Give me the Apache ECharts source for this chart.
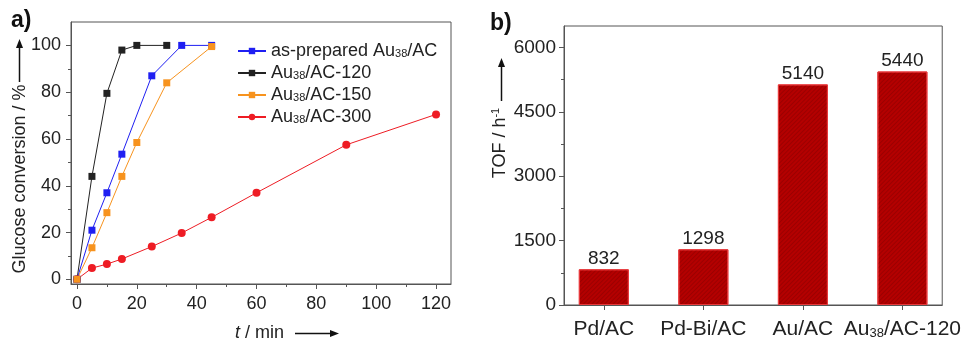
<!DOCTYPE html>
<html><head><meta charset="utf-8">
<script src="https://cdn.jsdelivr.net/npm/echarts@6/dist/echarts.min.js"></script>
<style>html,body{margin:0;padding:0;background:#fff}#c{width:964px;height:340px}</style>
</head><body><div id="c"></div>
<script>
// ---- data ----
const seriesNames = ['as-prepared Au38/AC', 'Au38/AC-120', 'Au38/AC-150', 'Au38/AC-300'];
const tPrepared = [0, 5, 10, 15, 25, 35, 45];
const convPrepared = [0, 21, 37, 53.5, 87, 100, 100];
const t120 = [0, 5, 10, 15, 20, 30];
const conv120 = [0, 44, 79.5, 98, 100, 100];
const t150 = [0, 5, 10, 15, 20, 30, 45];
const conv150 = [0, 13.5, 28.5, 44, 58.5, 84, 99.5];
const t300 = [0, 5, 10, 15, 25, 35, 45, 60, 90, 120];
const conv300 = [0, 4.8, 6.5, 8.7, 14, 19.8, 26.5, 37, 57.5, 70.5];
const catalysts = ['Pd/AC', 'Pd-Bi/AC', 'Au/AC', 'Au38/AC-120'];
const tof = [832, 1298, 5140, 5440];
const timeTicks = [0, 20, 40, 60, 80, 100, 120];
const timeMinor = [10, 30, 50, 70, 90, 110];
const convTicks = [0, 20, 40, 60, 80, 100];
const convMinor = [10, 30, 50, 70, 90];
const tofTicks = [0, 1500, 3000, 4500, 6000];
const tofMinor = [750, 2250, 3750, 5250];
const catPos = [1, 2, 3, 4];

// ---- styles ----
const F = "'Liberation Sans', Arial, sans-serif";
const INK = '#222';
const AX = '#555';
const colors = {prep: '#1f1ff2', c120: '#222222', c150: '#f7931e', c300: '#ee1c24'};
const sub = s => s.replace('38', '{s|38}');
const zip = (a, b) => a.map((v, i) => [v, b[i]]);
const plain = v => String(v);

const majorAxis = (grid, min, max, ticks, extra) => Object.assign({
  type: 'value', gridIndex: grid, min: min, max: max,
  axisLine: {show: true, onZero: false, lineStyle: {color: AX, width: 1}},
  axisTick: {show: true, inside: false, length: 5, customValues: ticks, lineStyle: {color: AX}},
  axisLabel: {show: true, customValues: ticks, color: INK, fontSize: 18, fontFamily: F, margin: 10, formatter: plain},
  splitLine: {show: false}
}, extra || {});
const minorAxis = (grid, min, max, ticks, pos) => ({
  type: 'value', gridIndex: grid, min: min, max: max, position: pos,
  axisLine: {show: false, onZero: false},
  axisTick: {show: true, inside: false, length: 3, customValues: ticks, lineStyle: {color: AX}},
  axisLabel: {show: false}, splitLine: {show: false}
});

const chart = echarts.init(document.getElementById('c'), null, {renderer: 'canvas'});
chart.setOption({
  animation: false,
  backgroundColor: '#fff',
  textStyle: {fontFamily: F},
  grid: [
    {left: 71, top: 22, width: 380, height: 262, show: true, borderColor: AX, borderWidth: 1, backgroundColor: 'transparent'},
    {left: 564, top: 26, width: 379, height: 279, show: true, borderColor: AX, borderWidth: 1, backgroundColor: 'transparent'}
  ],
  xAxis: [
    majorAxis(0, -2, 125, timeTicks, {position: 'bottom',
      axisLabel: {show: true, customValues: timeTicks, color: INK, fontSize: 18, fontFamily: F, margin: 11, formatter: plain}}),
    minorAxis(0, -2, 125, timeMinor, 'bottom'),
    majorAxis(1, 0.6, 4.4, catPos, {
      position: 'bottom',
      axisLabel: {show: true, customValues: catPos, color: INK, fontSize: 21, fontFamily: F, margin: 14,
        formatter: v => sub(catalysts[Math.round(v) - 1]),
        rich: {s: {fontSize: 13, fontFamily: F, color: INK, padding: [8, 0, 0, 0]}}}
    })
  ],
  yAxis: [
    majorAxis(0, -2, 110, convTicks, {position: 'left'}),
    minorAxis(0, -2, 110, convMinor, 'left'),
    majorAxis(1, 0, 6500, tofTicks, {position: 'left', axisLabel: {show: true, customValues: tofTicks, color: INK, fontSize: 19, fontFamily: F, margin: 8, formatter: plain}}),
    minorAxis(1, 0, 6500, tofMinor, 'left')
  ],
  legend: {
    data: seriesNames, orient: 'vertical', left: 232, top: 37,
    itemWidth: 28, itemHeight: 8, itemGap: 4,
    formatter: n => sub(n),
    textStyle: {fontSize: 18, color: INK, fontFamily: F,
      rich: {s: {fontSize: 11, fontFamily: F, color: INK, padding: [6, 0, 0, 0]}}}
  },
  series: [
    {name: seriesNames[3], type: 'line', xAxisIndex: 0, yAxisIndex: 0, data: zip(t300, conv300),
      symbol: 'circle', symbolSize: 8, lineStyle: {width: 1, color: colors.c300}, itemStyle: {color: colors.c300}},
    {name: seriesNames[1], type: 'line', xAxisIndex: 0, yAxisIndex: 0, data: zip(t120, conv120),
      symbol: 'rect', symbolSize: 7, lineStyle: {width: 1, color: colors.c120}, itemStyle: {color: colors.c120}},
    {name: seriesNames[0], type: 'line', xAxisIndex: 0, yAxisIndex: 0, data: zip(tPrepared, convPrepared),
      symbol: 'rect', symbolSize: 7, lineStyle: {width: 1, color: colors.prep}, itemStyle: {color: colors.prep}},
    {name: seriesNames[2], type: 'line', xAxisIndex: 0, yAxisIndex: 0, data: zip(t150, conv150),
      symbol: 'rect', symbolSize: 7, lineStyle: {width: 1, color: colors.c150}, itemStyle: {color: colors.c150}},
    {name: 'TOF', type: 'bar', xAxisIndex: 2, yAxisIndex: 2, data: zip(catPos, tof), barWidth: 50,
      itemStyle: {color: '#b40000', borderColor: '#e8393b', borderWidth: 1,
        decal: {symbol: 'rect', dashArrayX: [1, 0], dashArrayY: [1, 2], rotation: -Math.PI / 4, color: 'rgba(70,0,0,0.22)'}},
      label: {show: true, position: 'top', distance: 1, fontSize: 19, color: INK, fontFamily: F,
        formatter: p => String(p.value[1])}}
  ],
  graphic: [
    {type: 'text', left: 11, top: 9, style: {text: 'a)', fontSize: 23, fontWeight: 'bold', fill: '#111', fontFamily: F}},
    {type: 'text', left: 490, top: 12, style: {text: 'b)', fontSize: 23, fontWeight: 'bold', fill: '#111', fontFamily: F}},
    {type: 'text', x: 20, y: 179, rotation: Math.PI / 2,
      style: {text: 'Glucose conversion / %', fontSize: 18, fill: INK, fontFamily: F, align: 'center', verticalAlign: 'middle'}},
    {type: 'line', shape: {x1: 19.5, y1: 82, x2: 19.5, y2: 46}, style: {stroke: '#111', lineWidth: 1.5}},
    {type: 'polygon', shape: {points: [[19.5, 39], [16, 48], [23, 48]]}, style: {fill: '#111'}},
    {type: 'text', x: 235, y: 333,
      style: {text: '{i|t} / min', fontSize: 18, fill: INK, fontFamily: F, align: 'left', verticalAlign: 'middle',
        rich: {i: {fontStyle: 'italic', fontSize: 18, fontFamily: F, fill: INK}}}},
    {type: 'line', shape: {x1: 295, y1: 333.5, x2: 331, y2: 333.5}, style: {stroke: '#111', lineWidth: 1.5}},
    {type: 'polygon', shape: {points: [[339, 333.5], [330, 330], [330, 337]]}, style: {fill: '#111'}},
    {type: 'text', x: 500, y: 143, rotation: Math.PI / 2,
      style: {text: 'TOF / h{sup|-1}', fontSize: 18, fill: INK, fontFamily: F, align: 'center', verticalAlign: 'middle',
        rich: {sup: {fontSize: 11, fontFamily: F, fill: INK, padding: [0, 0, 8, 0]}}}},
    {type: 'line', shape: {x1: 501.5, y1: 101, x2: 501.5, y2: 66}, style: {stroke: '#111', lineWidth: 1.5}},
    {type: 'polygon', shape: {points: [[501.5, 58], [498, 67], [505, 67]]}, style: {fill: '#111'}}
  ]
});
</script></body></html>
